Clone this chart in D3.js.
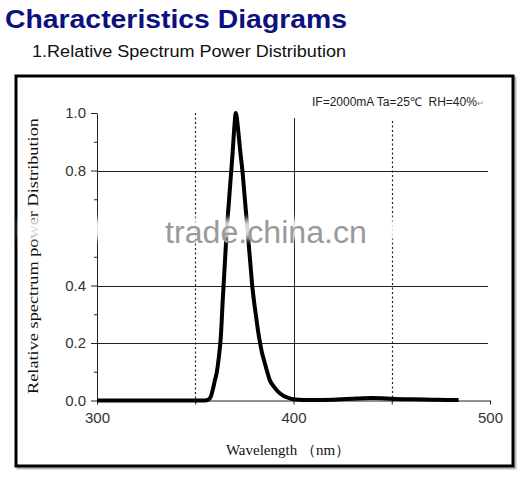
<!DOCTYPE html>
<html>
<head>
<meta charset="utf-8">
<script src="https://cdn.jsdelivr.net/npm/d3@7"></script>
<style>
  html, body { margin: 0; padding: 0; background: #fff; }
  svg { display: block; }
</style>
</head>
<body>
<svg id="chart" width="532" height="487"></svg>
<script>
// ---- data ----
const wavelengths = [300, 340, 355, 356.5, 358, 359, 360, 361, 362, 363, 364, 365, 366, 367, 368, 369, 370, 370.6, 371, 372, 373, 374, 375, 376, 377, 378, 379, 380, 381, 382, 383, 384, 385, 386, 388, 390, 392, 395, 398, 400, 405, 410, 420, 430, 435, 440, 445, 450, 460, 470, 480, 484];
const relativePower = [0, 0, 0, 0.002, 0.015, 0.04, 0.07, 0.1, 0.15, 0.22, 0.35, 0.47, 0.59, 0.68, 0.77, 0.86, 0.96, 1.0, 0.99, 0.93, 0.86, 0.8, 0.72, 0.64, 0.56, 0.48, 0.4, 0.34, 0.29, 0.24, 0.2, 0.165, 0.14, 0.115, 0.07, 0.048, 0.032, 0.016, 0.008, 0.004, 0.002, 0.002, 0.003, 0.006, 0.008, 0.009, 0.008, 0.006, 0.004, 0.003, 0.002, 0.002];
const xTickValues = [300, 350, 400, 450, 500];
const xTickLabels = ["300", "", "400", "", "500"];
const yTickValues = [0, 0.2, 0.4, 0.8, 1.0];
const yTickLabels = ["0.0", "0.2", "0.4", "0.8", "1.0"];
const yMinorTicks = [0.1, 0.3, 0.5, 0.7, 0.9];
const yGridValues = [0.2, 0.4, 0.8];
const solidVLines = [400];
const dottedVLines = [350, 450];
const titleText = "Characteristics Diagrams";
const subtitleText = "1.Relative Spectrum Power Distribution";
const conditionText = "IF=2000mA Ta=25\u2103  RH=40%";
const xAxisTitle = "Wavelength \uFF08nm\uFF09";
const yAxisTitle = "Relative spectrum power Distribution";
const watermark = "trade.china.cn";

// ---- drawing ----
const svg = d3.select("#chart");
const x = d3.scaleLinear().domain([300, 500]).range([97, 490]);
const y = d3.scaleLinear().domain([0, 1]).range([400.5, 113]);

// title
svg.append("text")
  .attr("x", 5).attr("y", 28)
  .attr("font-family", "Liberation Sans, Arial, sans-serif")
  .attr("font-weight", "bold")
  .attr("font-size", 26)
  .attr("fill", "#0c1180")
  .attr("textLength", 342).attr("lengthAdjust", "spacingAndGlyphs")
  .text(titleText);

svg.append("text")
  .attr("x", 32).attr("y", 57)
  .attr("font-family", "Liberation Sans, Arial, sans-serif")
  .attr("font-size", 16)
  .attr("fill", "#111")
  .attr("textLength", 314).attr("lengthAdjust", "spacingAndGlyphs")
  .text(subtitleText);

// frame shadow + frame
svg.append("rect")
  .attr("x", 18).attr("y", 78).attr("width", 497).attr("height", 390)
  .attr("fill", "none").attr("stroke", "#bbb").attr("stroke-width", 3);
svg.append("rect")
  .attr("x", 16).attr("y", 76).attr("width", 497).attr("height", 390)
  .attr("fill", "#fff").attr("stroke", "#000").attr("stroke-width", 3);

const g = svg.append("g");

// horizontal grid lines
g.selectAll("line.hgrid").data(yGridValues).enter().append("line")
  .attr("class", "hgrid")
  .attr("x1", x(300)).attr("x2", 488)
  .attr("y1", d => Math.round(y(d)) + 0.5).attr("y2", d => Math.round(y(d)) + 0.5)
  .attr("stroke", "#222").attr("stroke-width", 1);

// vertical solid lines
g.selectAll("line.vsolid").data(solidVLines).enter().append("line")
  .attr("x1", d => Math.round(x(d)) + 0.5).attr("x2", d => Math.round(x(d)) + 0.5)
  .attr("y1", 118).attr("y2", y(0))
  .attr("stroke", "#222").attr("stroke-width", 1);

// vertical dotted lines
g.selectAll("line.vdot").data(dottedVLines).enter().append("line")
  .attr("x1", d => Math.round(x(d)) + 0.5).attr("x2", d => Math.round(x(d)) + 0.5)
  .attr("y1", (d, i) => i === 0 ? 113 : 121).attr("y2", y(0) + 4)
  .attr("stroke", "#222").attr("stroke-width", 1.2)
  .attr("stroke-dasharray", "2,2.5");

// y axis
const yAxis = d3.axisLeft(y)
  .tickValues(yTickValues)
  .tickFormat((d, i) => yTickLabels[i])
  .tickSize(6).tickSizeOuter(0).tickPadding(5);
const yAxisG = g.append("g").attr("transform", "translate(" + (x(300)) + ",0)").call(yAxis);
yAxisG.select(".domain").attr("stroke", "#222");
yAxisG.selectAll(".tick line").attr("stroke", "#222");
yAxisG.selectAll("text")
  .attr("font-family", "Liberation Sans, Arial, sans-serif")
  .attr("font-size", 15).attr("fill", "#333");

const yMinor = d3.axisLeft(y).tickValues(yMinorTicks).tickFormat("").tickSize(3).tickSizeOuter(0);
const yMinorG = g.append("g").attr("transform", "translate(" + (x(300)) + ",0)").call(yMinor);
yMinorG.select(".domain").remove();
yMinorG.selectAll(".tick line").attr("stroke", "#222");

// x axis
const xAxis = d3.axisBottom(x)
  .tickValues(xTickValues)
  .tickFormat((d, i) => xTickLabels[i])
  .tickSize(4).tickSizeOuter(0).tickPadding(8);
const xAxisG = g.append("g").attr("transform", "translate(0," + y(0) + ")").call(xAxis);
xAxisG.select(".domain").attr("stroke", "#222");
xAxisG.selectAll(".tick line").attr("stroke", "#222");
xAxisG.selectAll("text")
  .attr("font-family", "Liberation Sans, Arial, sans-serif")
  .attr("font-size", 15).attr("fill", "#333");

// curve
const pts = wavelengths.map((w, i) => [w, relativePower[i]]);
g.append("path")
  .datum(pts)
  .attr("fill", "none")
  .attr("stroke", "#000")
  .attr("stroke-width", 4)
  .attr("stroke-linejoin", "round")
  .attr("d", d3.line().x(d => x(d[0])).y(d => y(d[1])).curve(d3.curveMonotoneX));

// condition annotation
const cond = svg.append("text")
  .attr("x", 312).attr("y", 106)
  .attr("font-family", "Liberation Sans, Arial, sans-serif")
  .attr("font-size", 12).attr("fill", "#222")
  .attr("xml:space", "preserve");
cond.append("tspan").text(conditionText);
cond.append("tspan").attr("font-size", 8).attr("fill", "#888").text("\u21B5");

// axis titles
svg.append("text")
  .attr("x", 288).attr("y", 455)
  .attr("text-anchor", "middle")
  .attr("font-family", "Liberation Serif, Times New Roman, serif")
  .attr("font-size", 15).attr("fill", "#111")
  .text(xAxisTitle);

svg.append("text")
  .attr("transform", "translate(38,256) rotate(-90)")
  .attr("text-anchor", "middle")
  .attr("font-family", "Liberation Serif, Times New Roman, serif")
  .attr("font-size", 15).attr("fill", "#111")
  .attr("textLength", 276).attr("lengthAdjust", "spacingAndGlyphs")
  .text(yAxisTitle);

// watermark
const defs = svg.append("defs");
defs.append("filter").attr("id", "blur").attr("x", "-50%").attr("y", "-50%").attr("width", "200%").attr("height", "200%")
  .append("feGaussianBlur").attr("stdDeviation", 3);
svg.append("rect").attr("x", 20).attr("y", 219).attr("width", 470).attr("height", 20)
  .attr("fill", "#fff").attr("opacity", 0.85).attr("filter", "url(#blur)");
svg.append("text")
  .attr("x", 165).attr("y", 243)
  .attr("font-family", "Liberation Sans, Arial, sans-serif")
  .attr("font-size", 31).attr("fill", "#9a9a9a")
  .attr("textLength", 202).attr("lengthAdjust", "spacingAndGlyphs")
  .text(watermark);
</script>
</body>
</html>
